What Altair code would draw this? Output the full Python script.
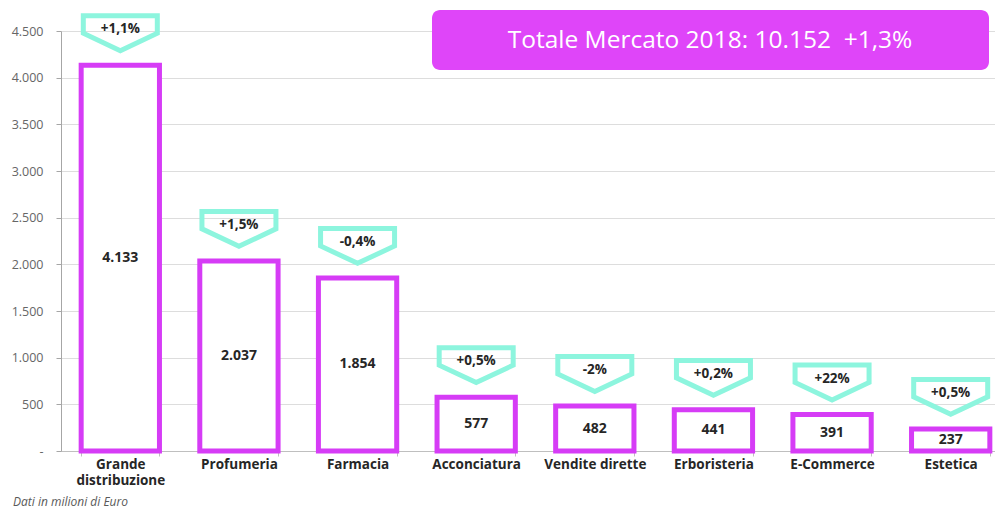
import altair as alt
import pandas as pd

categories = ["Grande distribuzione", "Profumeria", "Farmacia", "Acconciatura",
              "Vendite dirette", "Erboristeria", "E-Commerce", "Estetica"]
values = [4133, 2037, 1854, 577, 482, 441, 391, 237]
value_labels = ["4.133", "2.037", "1.854", "577", "482", "441", "391", "237"]
changes = ["+1,1%", "+1,5%", "-0,4%", "+0,5%", "-2%", "+0,2%", "+22%", "+0,5%"]
y_ticks = [0, 500, 1000, 1500, 2000, 2500, 3000, 3500, 4000, 4500]
title_text = "Totale Mercato 2018: 10.152\u00a0\u00a0+1,3%"
note_text = "Dati in milioni di Euro"

df = pd.DataFrame({"cat": categories, "val": values, "lab": value_labels, "chg": changes})

FONT = "Open Sans"
MAGENTA = "#D63CF6"
BOX = "#DF45F9"
MINT = "#8DF5DE"

xscale = alt.Scale(domain=categories, range=[0, 949], paddingInner=0.34, paddingOuter=0.17)
yscale = alt.Scale(domain=[0, 4500], nice=False)

x_enc = alt.X("cat:N", scale=xscale, sort=categories, title=None,
              axis=alt.Axis(labelAngle=0, labelFont=FONT, labelFontSize=13.5, labelFontWeight="bold",
                            labelColor="#262626", labelPadding=1, labelLineHeight=16,
                            labelExpr="datum.value == 'Grande distribuzione' ? ['Grande', 'distribuzione'] : datum.value",
                            tickBand="extent", tickSize=5, tickColor="#BFBFBF",
                            domainColor="#BFBFBF", grid=False, labelLimit=200))
x_plain = alt.X("cat:N", scale=xscale, sort=categories, title=None)

y_enc = alt.Y("val:Q", scale=yscale, title=None,
              axis=alt.Axis(values=y_ticks, grid=True, gridColor="#DDDDDD", gridWidth=1,
                            tickSize=5, tickColor="#A6A6A6", domainColor="#A6A6A6",
                            labelColor="#666666", labelFont=FONT, labelFontSize=12.5, labelPadding=13,
                            labelExpr="datum.value == 0 ? '-' : replace(format(datum.value, ','), ',', '.')"))
y_plain = alt.Y("val:Q", scale=yscale, title=None)

base = alt.Chart(df)

bars = base.mark_bar(fill="white", stroke=MAGENTA, strokeWidth=5).encode(x=x_enc, y=y_enc)

inner = base.transform_calculate(mid="datum.val / 2").mark_text(
    font=FONT, fontSize=14, fontWeight="bold", color="#262626", baseline="middle"
).encode(x=x_plain, y=alt.Y("mid:Q", scale=yscale, title=None), text="lab:N")

badge_shape = "M -1 -0.47 L 1 -0.47 L 1 0 L 0 0.47 L -1 0 Z"
badges = base.mark_point(shape=badge_shape, size=5476, filled=False, stroke=MINT,
                         strokeWidth=5, opacity=1, yOffset=-32, strokeJoin="miter").encode(
    x=x_plain, y=y_plain)

badge_text = base.mark_text(font=FONT, fontSize=13.5, fontWeight="bold", color="#262626",
                            baseline="middle", yOffset=-36).encode(
    x=x_plain, y=y_plain, text="chg:N")

box = alt.Chart(pd.DataFrame({"t": [title_text]})).mark_rect(color=BOX, cornerRadius=8).encode(
    x=alt.value(371), x2=alt.value(928), y=alt.value(-21), y2=alt.value(39))
box_text = alt.Chart(pd.DataFrame({"t": [title_text]})).mark_text(
    font=FONT, fontSize=24.5, color="white", baseline="middle", align="center").encode(
    x=alt.value(649), y=alt.value(10), text="t:N")

note = alt.Chart(pd.DataFrame({"t": [note_text]})).mark_text(
    font=FONT, fontSize=12, fontStyle="italic", color="#595959", baseline="middle", align="left").encode(
    x=alt.value(-48), y=alt.value(471), text="t:N")

chart = alt.layer(bars, inner, badges, badge_text, box, box_text, note).properties(
    width=934, height=420,
    background="white",
    autosize=alt.AutoSizeParams(type="none"),
    padding={"left": 61, "top": 31, "right": 0, "bottom": 56},
).configure_view(stroke=None)

chart.save("out.html", embed_options={"renderer": "svg", "actions": False})
